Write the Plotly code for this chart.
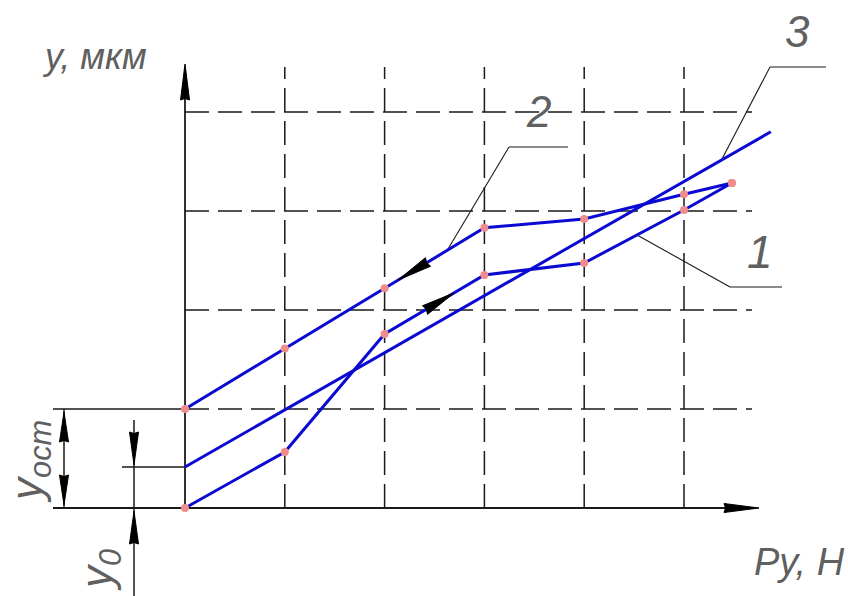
import plotly.graph_objects as go

# ---- data (grid units: x = load Py, y = deflection y) ----
load_x = [0, 1, 2, 3, 4, 5, 5.48]
load_y = [0.0, 0.566, 1.758, 2.354, 2.475, 3.01, 3.283]
unload_x = [5.48, 5, 4, 3, 2, 1, 0]
unload_y = [3.283, 3.17, 2.92, 2.83, 2.22, 1.61, 1.0]
line3_x = [0, 5.87]
line3_y = [0.414, 3.80]
grid_x = [1, 2, 3, 4, 5]
grid_y = [1, 2, 3, 4]
curve_labels = ["1", "2", "3"]

# ---- pixel <-> data helpers (for decoration placement) ----
W, H = 848, 596
OX, OY, SX, SY = 185, 508, 99.8, 99.0
def X(px): return (px - OX) / SX
def Y(py): return (OY - py) / SY
def PX(x): return OX + x * SX
def PY(y): return OY - y * SY

BLUE = "#0a0ad2"
PINK = "#f08c8c"
INK = "#1a1a1a"
TXT = "#606060"
FONT = "Liberation Sans Narrow, Liberation Sans, sans-serif"

fig = go.Figure()
fig.add_trace(go.Scatter(x=line3_x, y=line3_y, mode="lines",
                         line=dict(color=BLUE, width=3), hoverinfo="skip"))
fig.add_trace(go.Scatter(x=load_x, y=load_y, mode="lines+markers",
                         line=dict(color=BLUE, width=3),
                         marker=dict(color=PINK, size=8), hoverinfo="skip"))
fig.add_trace(go.Scatter(x=unload_x, y=unload_y, mode="lines+markers",
                         line=dict(color=BLUE, width=3),
                         marker=dict(color=PINK, size=8), hoverinfo="skip"))

shapes = []
def seg(p, q, color=INK, width=1.5, dash=None):
    d = dict(type="line", x0=X(p[0]), y0=Y(p[1]), x1=X(q[0]), y1=Y(q[1]),
             xref="x", yref="y", layer="below", line=dict(color=color, width=width))
    if dash:
        d["line"]["dash"] = dash
    shapes.append(d)

def arrowhead(tip, base, half=4.0, color="black"):
    tx, ty = tip; bx, by = base
    dx, dy = tx - bx, ty - by
    L = (dx * dx + dy * dy) ** 0.5
    nx, ny = -dy / L * half, dx / L * half
    pts = [(tx, ty), (bx + nx, by + ny), (bx + dx / L * 1.5, by + dy / L * 1.5),
           (bx - nx, by - ny)]
    path = "M " + " L ".join(f"{X(a)},{Y(b)}" for a, b in pts) + " Z"
    shapes.append(dict(type="path", path=path, xref="x", yref="y",
                       fillcolor=color, line=dict(color=color, width=1)))

# grid
gtop = X(752)
for gx in grid_x:
    shapes.append(dict(type="line", x0=gx, x1=gx, y0=0, y1=Y(67), xref="x", yref="y",
                       layer="below", line=dict(color=INK, width=1.5, dash="24px,9px")))
for gy in grid_y:
    shapes.append(dict(type="line", x0=0, x1=gtop, y0=gy, y1=gy, xref="x", yref="y",
                       layer="below", line=dict(color=INK, width=1.5, dash="24px,9px")))

# axes
seg((185, 508), (185, 70), width=1.8)
seg((53, 508), (755, 508), width=1.8)
arrowhead((185, 64), (185, 100), half=4.5)
arrowhead((759, 508), (724, 508), half=4.5)

# extension lines
seg((53, 409), (185, 409), width=1.5)
seg((122, 467), (185, 467), width=1.5)

# dimension y_ост
seg((64, 409), (64, 508), width=1.5)
arrowhead((64, 412), (64, 442), half=4.5)
arrowhead((64, 505), (64, 475), half=4.5)
# dimension y_0
seg((134, 420), (134, 596), width=1.5)
arrowhead((134, 465), (134, 432), half=4.5)
arrowhead((134, 511), (134, 544), half=4.5)

# leader lines
for pts in [[(826, 67), (770, 67), (722, 159)],
            [(568, 147), (509, 147), (448, 249)],
            [(782, 287), (730, 287), (637, 235)]]:
    seg(pts[0], pts[1], width=1.1)
    seg(pts[1], pts[2], width=1.1)

# direction arrows on curves (computed along the curve segments)
def along(xs, ys, i, px_target):
    x0p, y0p = PX(xs[i]), PY(ys[i]); x1p, y1p = PX(xs[i + 1]), PY(ys[i + 1])
    t = (px_target - x0p) / (x1p - x0p)
    return (x0p + t * (x1p - x0p), y0p + t * (y1p - y0p))

arrowhead(along(unload_x, unload_y, 3, 398), along(unload_x, unload_y, 3, 428), half=5)
arrowhead(along(load_x, load_y, 2, 454), along(load_x, load_y, 2, 425), half=5)

fig.update_layout(shapes=shapes)

def label(text, px, py, size, angle=0):
    fig.add_annotation(x=X(px), y=Y(py), xref="x", yref="y", text=text, showarrow=False,
                       textangle=angle,
                       font=dict(family=FONT, size=size, color=TXT, style="italic"))

label("y, мкм", 94, 56, 36)
label("Py, Н", 799, 562, 38)
label(curve_labels[2], 797, 31, 44)
label(curve_labels[1], 538, 111, 44)
label(curve_labels[0], 760, 252, 46)
label("y<sub>ост</sub>", 30, 462, 44, angle=-90)
label("y<sub>0</sub>", 100, 570, 44, angle=-90)

fig.update_layout(
    width=W, height=H, margin=dict(l=0, r=0, t=0, b=0),
    paper_bgcolor="white", plot_bgcolor="white", showlegend=False,
    xaxis=dict(range=[X(0), X(W)], visible=False, domain=[0, 1], fixedrange=True),
    yaxis=dict(range=[Y(H), Y(0)], visible=False, domain=[0, 1], fixedrange=True),
)
fig.write_html("out.html", config={"displayModeBar": False},
               post_script="document.body.style.margin='0px';document.body.style.overflow='hidden';")
